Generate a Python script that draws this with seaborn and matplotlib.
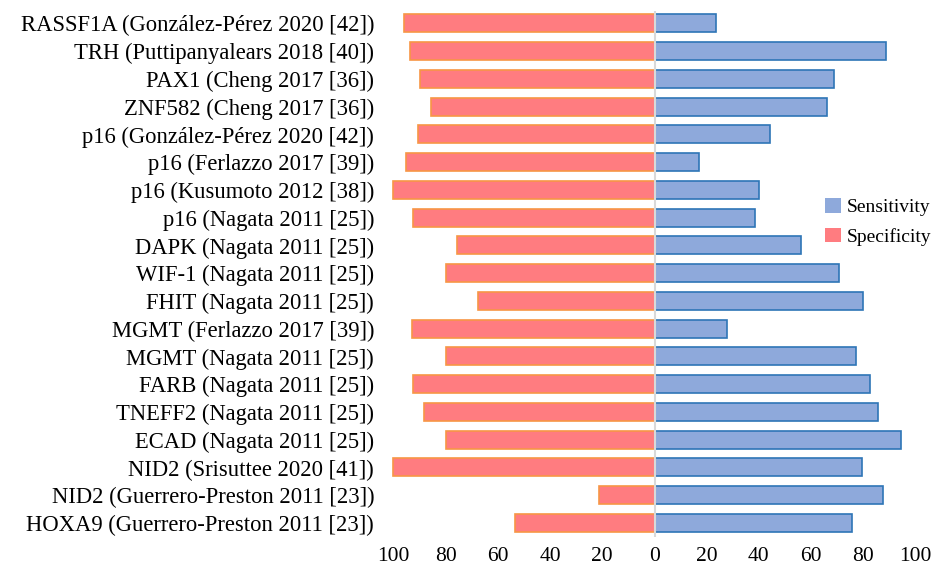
import numpy as np
import pandas as pd
import matplotlib
matplotlib.use("Agg")
import matplotlib.pyplot as plt
import seaborn as sns

# datos (porcentajes)
etiquetas = [
    "RASSF1A (González-Pérez 2020 [42])",
    "TRH (Puttipanyalears 2018 [40])",
    "PAX1 (Cheng 2017 [36])",
    "ZNF582 (Cheng 2017 [36])",
    "p16 (González-Pérez 2020 [42])",
    "p16 (Ferlazzo 2017 [39])",
    "p16 (Kusumoto 2012 [38])",
    "p16 (Nagata 2011 [25])",
    "DAPK (Nagata 2011 [25])",
    "WIF-1 (Nagata 2011 [25])",
    "FHIT (Nagata 2011 [25])",
    "MGMT (Ferlazzo 2017 [39])",
    "MGMT (Nagata 2011 [25])",
    "FARB (Nagata 2011 [25])",
    "TNEFF2 (Nagata 2011 [25])",
    "ECAD (Nagata 2011 [25])",
    "NID2 (Srisuttee 2020 [41])",
    "NID2 (Guerrero-Preston 2011 [23])",
    "HOXA9 (Guerrero-Preston 2011 [23])",
]
sensibilidad = [23.4, 88.6, 68.7, 66.1, 44.2, 17.2, 40.0, 38.6, 56.0, 70.8,
                79.8, 27.7, 77.0, 82.7, 85.6, 94.6, 79.3, 87.6, 75.8]
especificidad = [96.0, 93.5, 89.8, 85.5, 90.6, 95.0, 100.0, 92.6, 75.5, 79.8,
                 67.5, 93.0, 79.8, 92.6, 88.4, 79.8, 100.0, 21.4, 53.6]
ticks = [-100, -80, -60, -40, -20, 0, 20, 40, 60, 80, 100]

df = pd.concat([
    pd.DataFrame({"label": etiquetas, "medida": "Sensitivity", "valor": sensibilidad}),
    pd.DataFrame({"label": etiquetas, "medida": "Specificity",
                  "valor": [-v for v in especificidad]}),
])

fuente = "Liberation Serif"
plt.rcParams["font.family"] = [fuente, "DejaVu Serif"]

fig = plt.figure(figsize=(9.35, 5.76), dpi=100)
ax = fig.add_axes([0.418, 0.068, 0.564, 0.913])

colores = {"Sensitivity": "#8EA9DB", "Specificity": "#FF7C80"}
bordes = {"Sensitivity": "#2E75B6", "Specificity": "#F79646"}

sns.barplot(data=df, y="label", x="valor", hue="medida",
            hue_order=["Sensitivity", "Specificity"], order=etiquetas,
            palette=colores, saturation=1, dodge=False, width=0.65, ax=ax,
            legend=True)

for cont, medida in zip(ax.containers, ["Sensitivity", "Specificity"]):
    for p in cont:
        p.set_edgecolor(bordes[medida])
        p.set_linewidth(1.2)

ax.axvline(0, color="#D9D9D9", lw=1.5, zorder=3)
ax.set_xlim(-101, 101)
ax.set_ylim(len(etiquetas) - 0.5, -0.45)
ax.set_xticks(ticks)
ax.set_xticklabels([str(abs(t)) for t in ticks], fontsize=15.5)
ax.tick_params(axis="y", labelsize=16.3, length=0, pad=12)
ax.tick_params(axis="x", length=0, pad=7)
ax.set_xlabel("")
ax.set_ylabel("")
for s in ax.spines.values():
    s.set_visible(False)

h, l = ax.get_legend_handles_labels()
ax.get_legend().remove()
for hh in h:
    hh.set_linewidth(1.2)
fig.legend(h, l, loc="center left", bbox_to_anchor=(0.872, 0.615),
           frameon=False, fontsize=14, handlelength=0.8, handleheight=0.8,
           handletextpad=0.3, labelspacing=0.6, borderpad=0)

fig.savefig("out.png", dpi=100)
